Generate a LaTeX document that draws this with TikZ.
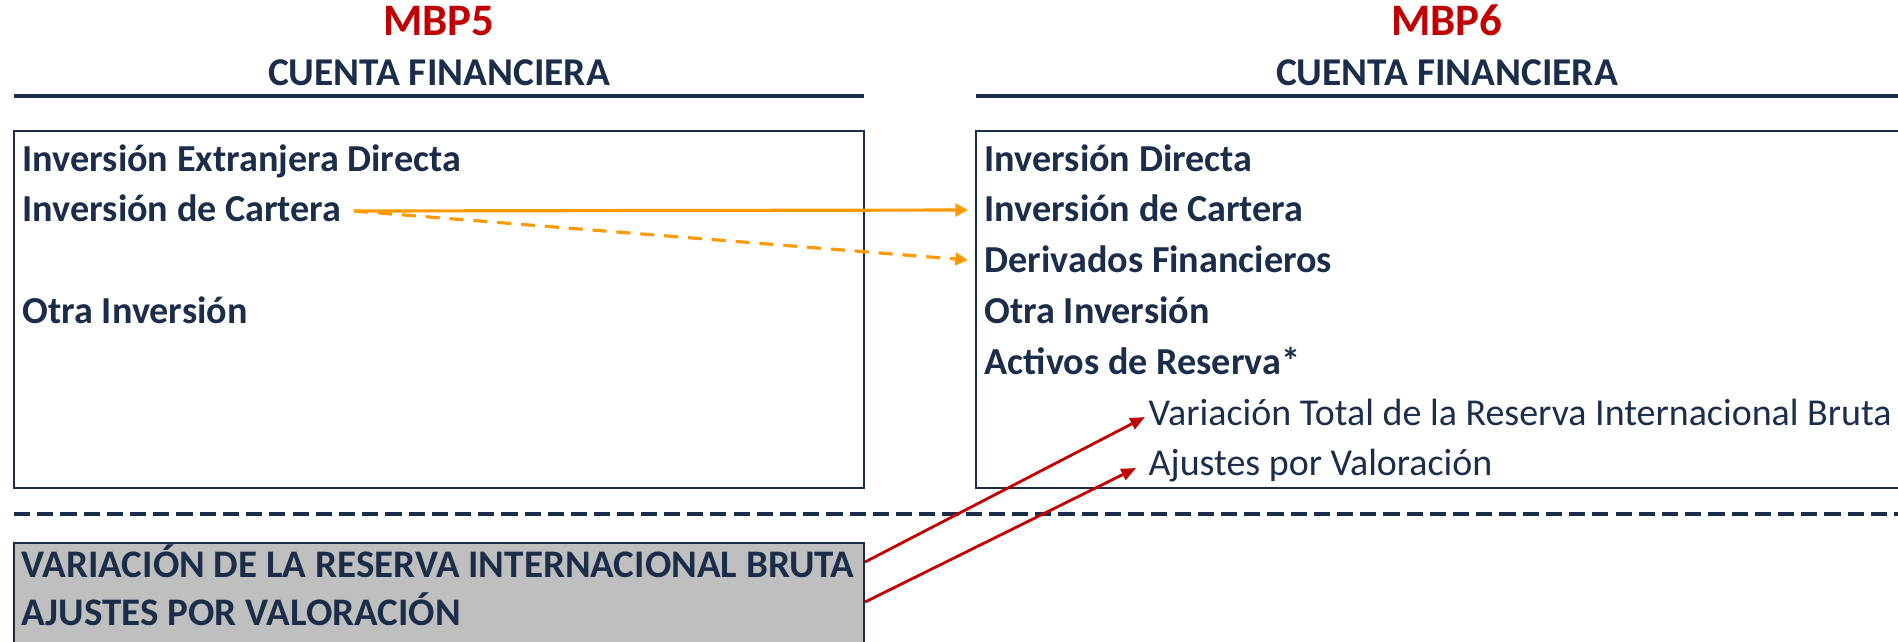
\documentclass[tikz,border=0pt]{standalone}
\usepackage{fontspec}
\setmainfont{Carlito}
\usetikzlibrary{arrows.meta,fit}
\definecolor{azul}{RGB}{28,45,74}
\definecolor{rojo}{RGB}{192,0,0}
\definecolor{naranja}{RGB}{255,153,0}
\definecolor{gris}{RGB}{191,191,191}
\begin{document}
\begin{tikzpicture}[x=0.01cm,y=-0.01cm,
                titulo/.style={anchor=base,inner sep=0pt,font=\fontsize{11.2}{13}\selectfont\bfseries},
                rubro/.style={anchor=base west,inner sep=0pt,text=azul,font=\fontsize{10.85}{12}\selectfont\bfseries},
                subrubro/.style={anchor=base west,inner sep=0pt,text=azul,font=\fontsize{10.8}{12}\selectfont},
                grande/.style={anchor=base west,inner sep=0pt,text=azul,font=\fontsize{11.1}{14}\selectfont\bfseries},
                flecha/.style={naranja,line width=0.9pt,-{Triangle[length=3.6pt,width=3.6pt]}},
                flechaR/.style={rojo,line width=0.8pt,-{Triangle[length=4.2pt,width=3.4pt]}}]
                \useasboundingbox (0,0) rectangle (1898,641);
                \node[titulo,text=rojo,font=\fontsize{12.8}{14}\selectfont\bfseries] (mbp5) at (439,35) {MBP5};
                \node[titulo,text=azul] (cf5) at (439,85) {CUENTA FINANCIERA};
                \node[titulo,text=rojo,font=\fontsize{12.8}{14}\selectfont\bfseries] (mbp6) at (1447,35) {MBP6};
                \node[titulo,text=azul] (cf6) at (1447,85) {CUENTA FINANCIERA};
                \draw[azul,line width=1.1pt] (14,96)--(864,96);
                \draw[azul,line width=1.1pt] (976,96)--(1898,96);
                \draw[azul,line width=0.6pt] (14,131) rectangle (864,488);
                \draw[azul,line width=0.6pt] (1910,131)--(976,131)--(976,488)--(1910,488);
                \draw[azul,line width=1pt,dash pattern=on 4.6pt off 2pt] (14,514)--(1898,514);
                \path (14,543) coordinate (g1) (864,660) coordinate (g2);
                \node[draw=azul,fill=gris,line width=0.6pt,inner sep=0pt,fit=(g1)(g2)] (caja) {};
                \node[rubro] (ied5) at (22,171) {Inversión Extranjera Directa};
                \node[rubro] (ic5) at (22,221) {Inversión de Cartera};
                \node[rubro] (oi5) at (22,323) {Otra Inversión};
                \node[rubro] (id6) at (984,171) {Inversión Directa};
                \node[rubro] (ic6) at (984,221) {Inversión de Cartera};
                \node[rubro] (df6) at (984,272) {Derivados Financieros};
                \node[rubro] (oi6) at (984,323) {Otra Inversión};
                \node[rubro] (ar6) at (984,374) {Activos de Reserva*};
                \node[subrubro] (vt6) at (1148,425) {Variación Total de la Reserva Internacional Bruta};
                \node[subrubro] (av6) at (1148,475) {Ajustes por Valoración};
                \node[grande] (vrib) at (21,577) {VARIACIÓN DE LA RESERVA INTERNACIONAL BRUTA};
                \node[grande] (apv) at (21,625) {AJUSTES POR VALORACIÓN};
                \draw[flecha] ([xshift=0.12cm,yshift=0.1cm]ic5.base east)--([xshift=-0.16cm,yshift=0.11cm]ic6.base west);
                \draw[flecha,dash pattern=on 4pt off 2.8pt] ([xshift=0.12cm,yshift=0.1cm]ic5.base east)--([xshift=-0.16cm,yshift=0.12cm]df6.base west);
                \draw[flechaR] ([yshift=-0.2cm]caja.north east)--([xshift=-0.03cm,yshift=0.08cm]vt6.base west);
                \draw[flechaR] ([yshift=-0.6cm]caja.north east)--([xshift=-0.12cm,yshift=0.07cm]av6.base west);
            \end{tikzpicture}
\end{document}
